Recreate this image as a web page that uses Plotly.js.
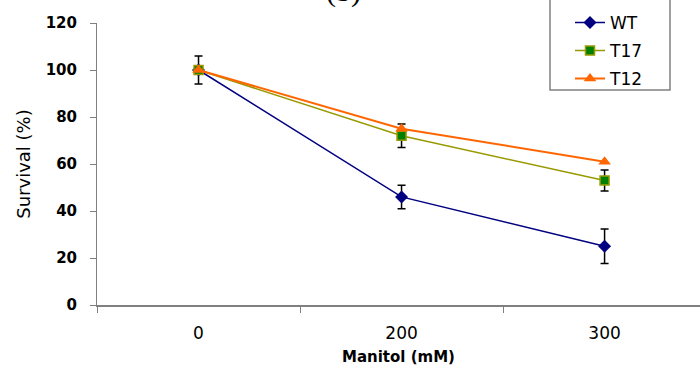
<!DOCTYPE html>
<html>
<head>
<meta charset="utf-8">
<script src="https://cdn.plot.ly/plotly-3.0.1.min.js"></script>
<style>html,body{margin:0;padding:0;background:#fff;}#chart{width:700px;height:372px;}</style>
</head>
<body>
<div id="chart"></div>
<script>
const categories = ["0", "200", "300"];
const wtValues = [100, 46, 25];
const wtErrors = [6, 5, 7.3];
const t17Values = [100, 72, 53];
const t17Errors = [0, 5, 4.5];
const t12Values = [100, 75, 61];
const seriesNames = ["WT", "T17", "T12"];
const yTicks = [0, 20, 40, 60, 80, 100, 120];

const font = "DejaVu Sans, Arial, sans-serif";
const plotH = 282.5, plotW = 603, mL = 97, mT = 23;
const px2x = p => (p - mL) / plotW;
const px2y = p => 1 - (p - mT) / plotH;

const traces = [
  {
    x: categories, y: wtValues, name: seriesNames[0], type: "scatter", mode: "lines+markers",
    legendgroup: "a",
    line: {color: "#000080", width: 1.5},
    marker: {symbol: "diamond", size: 10, color: "#000080"},
    error_y: {type: "data", array: wtErrors, visible: true, color: "#000000", thickness: 1.5, width: 4}
  },
  {
    x: categories, y: t17Values, name: seriesNames[1], type: "scatter", mode: "lines+markers",
    legendgroup: "b",
    line: {color: "#999900", width: 1.5},
    marker: {symbol: "square", size: 9, color: "#008000", line: {color: "#999900", width: 1.5}},
    error_y: {type: "data", array: t17Errors, visible: true, color: "#000000", thickness: 1.5, width: 4}
  },
  {
    x: categories, y: t12Values, name: seriesNames[2], type: "scatter", mode: "lines+markers",
    legendgroup: "c",
    line: {color: "#FF6600", width: 2},
    marker: {symbol: "triangle-up", size: 11, color: "#FF6600"}
  }
];

const layout = {
  width: 700, height: 372,
  margin: {l: mL, r: 0, t: mT, b: 66.5, autoexpand: false},
  paper_bgcolor: "#ffffff", plot_bgcolor: "#ffffff",
  font: {family: font, color: "#000000"},
  showlegend: true,
  legend: {
    x: px2x(570), xanchor: "left", y: px2y(97), yanchor: "bottom",
    borderwidth: 0, bgcolor: "rgba(0,0,0,0)",
    font: {family: font, size: 17, color: "#000000"},
    traceorder: "grouped", tracegroupgap: 3,
    itemwidth: 30
  },
  shapes: [
    {
      type: "rect", xref: "paper", yref: "paper",
      x0: px2x(550), x1: px2x(670), y0: px2y(90), y1: px2y(-5),
      line: {color: "#808080", width: 1.5}, fillcolor: "rgba(0,0,0,0)", layer: "below"
    }
  ],
  xaxis: {
    type: "category",
    range: [-0.5, 2.47],
    tickson: "boundaries",
    ticks: "outside", ticklen: 6, tickcolor: "#808080", tickwidth: 1,
    showline: true, linecolor: "#808080", linewidth: 1.5,
    showgrid: false, zeroline: false,
    tickfont: {family: font, size: 17, color: "#000000"},
    ticklabelstandoff: 12,
    title: {text: "Manitol (mM)", font: {family: font, size: 15, color: "#000000", weight: "bold"}, standoff: 9}
  },
  yaxis: {
    range: [0, 120],
    tickvals: yTicks,
    ticks: "outside", ticklen: 6, tickcolor: "#808080", tickwidth: 1,
    showline: true, linecolor: "#808080", linewidth: 1,
    showgrid: false, zeroline: false,
    tickfont: {family: font, size: 15, color: "#000000", weight: "bold"},
    ticklabelstandoff: 10,
    title: {text: "Survival (%)", font: {family: font, size: 18, color: "#000000"}, standoff: 10}
  },
  annotations: [
    {
      text: "(b)", xref: "paper", yref: "paper",
      x: px2x(343), y: px2y(10),
      xanchor: "center", yanchor: "bottom", showarrow: false,
      font: {family: "Liberation Serif, Times New Roman, serif", size: 30, color: "#000000"}
    }
  ]
};

Plotly.newPlot("chart", traces, layout, {displayModeBar: false, staticPlot: true});
</script>
</body>
</html>
